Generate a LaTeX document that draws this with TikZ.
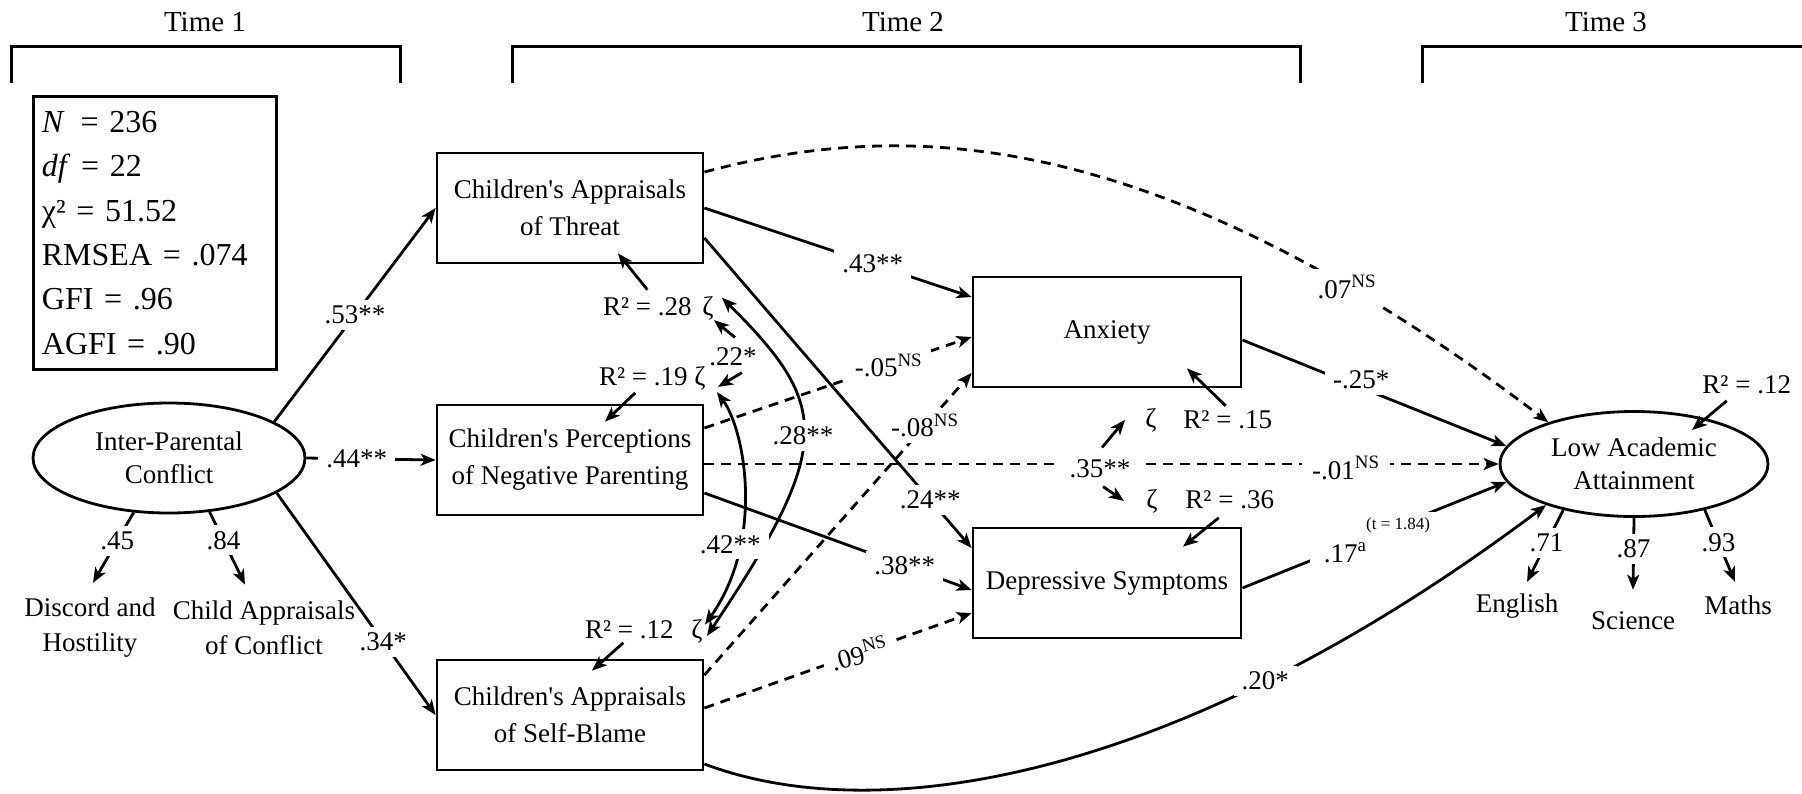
\documentclass[tikz,border=0pt]{standalone}
\usepackage{fontspec}
\setmainfont{Liberation Serif}
\usetikzlibrary{arrows.meta,shapes.geometric}
\newcommand{\NSx}{\textsuperscript{NS}}
\newcommand{\apo}{\textquotesingle}
\begin{document}
\begin{tikzpicture}[x=0.5pt,y=-0.5pt,
  every node/.style={font=\fontsize{13.5}{17}\selectfont, inner sep=0pt},
  sembox/.style={draw, line width=1.4pt, minimum width=133pt, minimum height=55pt, align=center, font=\fontsize{13.5}{18.5}\selectfont},
  latent/.style={draw, ellipse, line width=1.4pt, minimum width=136pt, minimum height=55pt, align=center, font=\fontsize{13.5}{16.5}\selectfont},
  ln/.style={line width=1.4pt},
  arr/.style={line width=1.4pt, -{Stealth[length=7.5pt,width=6pt,inset=2pt]}},
  darr/.style={line width=1.4pt, {Stealth[length=7.5pt,width=6pt,inset=2pt]}-{Stealth[length=7.5pt,width=6pt,inset=2pt]}},
  dsh/.style={dash pattern=on 5pt off 3.5pt},
  lbl/.style={fill=white, inner xsep=4pt, inner ysep=3pt},
  bar/.style={line width=1.5pt},
  timelbl/.style={font=\fontsize{14.5}{17}\selectfont},
  small/.style={font=\fontsize{8.5}{10}\selectfont}
  ]
\useasboundingbox (0,0) rectangle (1802,793);

% time brackets
\node[timelbl] (t1) at (205,22) {Time 1};
\node[timelbl] (t2) at (903,22) {Time 2};
\node[timelbl] (t3) at (1606,22) {Time 3};
\draw[bar] (11,83) -- (11,46) -- (400,46) -- (400,83);
\draw[bar] (512,83) -- (512,46) -- (1300,46) -- (1300,83);
\draw[bar] (1422,83) -- (1422,46) -- (1802,46);

% fit statistics
\node[draw, line width=1.4pt, anchor=north west, minimum width=121.5pt, minimum height=136.5pt,
      align=left, text width=113pt, inner xsep=4pt, font=\fontsize{16}{22.2}\selectfont] (stats) at (32,95)
  {\textit{N}\,\ = 236\\ \textit{df} = 22\\ χ² = 51.52\\ RMSEA = .074\\ GFI = .96\\ AGFI = .90};

% main nodes
\node[sembox] (thr) at (570,208) {Children\apo s Appraisals\\of Threat};
\node[sembox] (perc) at (570,460) {Children\apo s Perceptions\\of Negative Parenting};
\node[sembox] (sb) at (570,715) {Children\apo s Appraisals\\of Self-Blame};
\node[sembox, minimum width=134pt] (anx) at (1107,332) {Anxiety};
\node[sembox, minimum width=134pt] (dep) at (1107,583) {Depressive Symptoms};
\node[latent] (ipc) at (169,458) {Inter-Parental\\Conflict};
\node[latent, minimum width=134pt, minimum height=52.5pt] (laa) at (1634,464) {Low Academic\\Attainment};

% indicators
\node[align=center, font=\fontsize{13.5}{17.5}\selectfont] (disc) at (90,628) {Discord and\\Hostility};
\node[align=center, font=\fontsize{13.5}{17.5}\selectfont] (child) at (264,628) {Child Appraisals\\of Conflict};
\node[anchor=base] (eng) at (1517,612) {English};
\node[anchor=base] (sci) at (1633,629) {Science};
\node[anchor=base] (mat) at (1738,614) {Maths};

\draw[arr] (ipc.-123) -- node[lbl,pos=0.4] {.45} ([xshift=1.5pt,yshift=7.5pt]disc.north);
\draw[arr] (ipc.-53) -- node[lbl,pos=0.39] {.84} ([xshift=-9.5pt,yshift=8pt]child.north);
\draw[arr] (laa.-147) -- node[lbl,pos=0.46] {.71} ([xshift=5pt,yshift=5.5pt]eng.north);
\draw[arr] (laa.south) -- node[lbl,pos=0.43] {.87} ([yshift=10.5pt]sci.north);
\draw[arr] (laa.-33) -- node[lbl,pos=0.45] {.93} ([xshift=-1.5pt,yshift=6.5pt]mat.north);

% zetas and R2
\node[anchor=base] (zT) at (708,315) {ζ};
\node[anchor=base] (zP) at (700,385) {ζ};
\node[anchor=base] (zS) at (697,638) {ζ};
\node[anchor=base] (zA) at (1151,427) {ζ};
\node[anchor=base] (zD) at (1152,508) {ζ};
\node[anchor=base east] (r28) at (692,315) {R² = .28};
\node[anchor=base east] (r19) at (688,385) {R² = .19};
\node[anchor=base east] (r12a) at (674,638) {R² = .12};
\node[anchor=base west] (r15) at (1183,428) {R² = .15};
\node[anchor=base west] (r36) at (1185,508) {R² = .36};
\node[anchor=base west] (r12b) at (1702,393) {R² = .12};

\draw[arr] ([yshift=3.5pt]r28.north) -- ([xshift=24pt,yshift=5.5pt]thr.south);
\draw[arr] ([xshift=-4pt,yshift=-3.5pt]r19.south) -- ([xshift=17.5pt,yshift=-9pt]perc.north);
\draw[arr] ([xshift=-3pt,yshift=-2pt]r12a.south) -- ([xshift=11pt,yshift=-6pt]sb.north);
\draw[arr] ([xshift=-1pt,yshift=2pt]r15.north) -- ([xshift=40pt,yshift=10pt]anx.south);
\draw[arr] ([xshift=-5.5pt,yshift=-4.5pt]r36.south) -- ([xshift=38pt,yshift=-10pt]dep.north);
\draw[arr] ([xshift=-10pt,yshift=-3.5pt]r12b.south) -- ([xshift=29pt,yshift=17pt]laa.center);

% IPC paths
\draw[arr] (ipc.19) -- node[lbl,pos=0.5] {.53**} (thr.west);
\draw[arr] (ipc.east) -- node[lbl,pos=0.39] {.44**} (perc.west);
\draw[arr] (ipc.-18) -- node[lbl,pos=0.67] {.34*} (sb.west);

% Threat paths
\draw[arr,dsh] ([yshift=18pt]thr.east) .. controls (900,120) and (1150,120) .. node[lbl,pos=0.82] {.07\NSx} (laa.154);
\draw[arr] (thr.east) -- node[lbl,pos=0.63] {.43**} ([yshift=17.5pt]anx.west);
\draw[arr] ([yshift=-15pt]thr.east) -- node[lbl,pos=0.845] {.24**} ([yshift=17.5pt]dep.west);

% Perceptions paths
\draw[arr,dsh] ([yshift=16pt]perc.east) -- node[lbl,pos=0.69] {-.05\NSx} ([yshift=-2.5pt]anx.west);
\draw[arr,dsh] ([yshift=-2pt]perc.east) -- node[lbl,pos=0.808,yshift=-2pt,inner xsep=5pt] {-.01\NSx} (laa.west);
\draw[arr] ([yshift=-16.5pt]perc.east) -- node[lbl,pos=0.75] {.38**} ([yshift=-3.5pt]dep.west);

% Self-blame paths
\draw[arr,dsh] ([yshift=20pt]sb.east) -- node[lbl,pos=0.826] {-.08\NSx} ([yshift=-20.5pt]anx.west);
\draw[arr,dsh] ([yshift=3.5pt]sb.east) -- node[lbl,pos=0.58,rotate=15] {.09\NSx} ([yshift=-15pt]dep.west);
\draw[arr] ([yshift=-24.5pt]sb.east) .. controls (880,830) and (1180,780) .. node[lbl,pos=0.73] {.20*} (laa.-155);

% Anxiety / Depression to LAA
\draw[arr] ([yshift=-4pt]anx.east) -- node[lbl,pos=0.45,yshift=4pt] {-.25*} (laa.172);
\draw[arr] ([yshift=-2.5pt]dep.east) -- node[lbl,pos=0.39,yshift=-3pt,inner xsep=7pt,inner ysep=5pt] {.17\textsuperscript{a}} node[lbl,pos=0.59,small,inner xsep=3pt,inner ysep=3pt] {(t = 1.84)} (laa.-172);

% residual covariances
\draw[darr] ([xshift=4pt,yshift=-1pt]zT.north east) .. controls (830,405) and (835,445) .. node[lbl,pos=0.5] {.28**} ([xshift=2pt,yshift=-2.5pt]zS.east);
\draw[darr] ([xshift=5.5pt,yshift=-1pt]zP.south east) .. controls (745,430) and (765,540) .. node[lbl,pos=0.7,xshift=-4.5pt] {.42**} ([xshift=1pt,yshift=-3pt]zS.north east);

\node[inner sep=1pt] (c22) at (733,357) {.22*};
\draw[arr] ([xshift=1pt,yshift=4pt]c22.north) -- (zT.south east);
\draw[arr] ([xshift=4.5pt,yshift=-2pt]c22.south) -- ([xshift=6pt,yshift=-4.5pt]zP.east);

\node[lbl, inner xsep=8pt] (c35) at (1100,469) {.35**};
\draw[arr] ([xshift=1pt,yshift=3pt]c35.north) -- ([xshift=-10pt]zA.west);
\draw[arr] ([xshift=1.5pt,yshift=-1pt]c35.south) -- ([xshift=-11pt]zD.west);
\end{tikzpicture}
\end{document}
